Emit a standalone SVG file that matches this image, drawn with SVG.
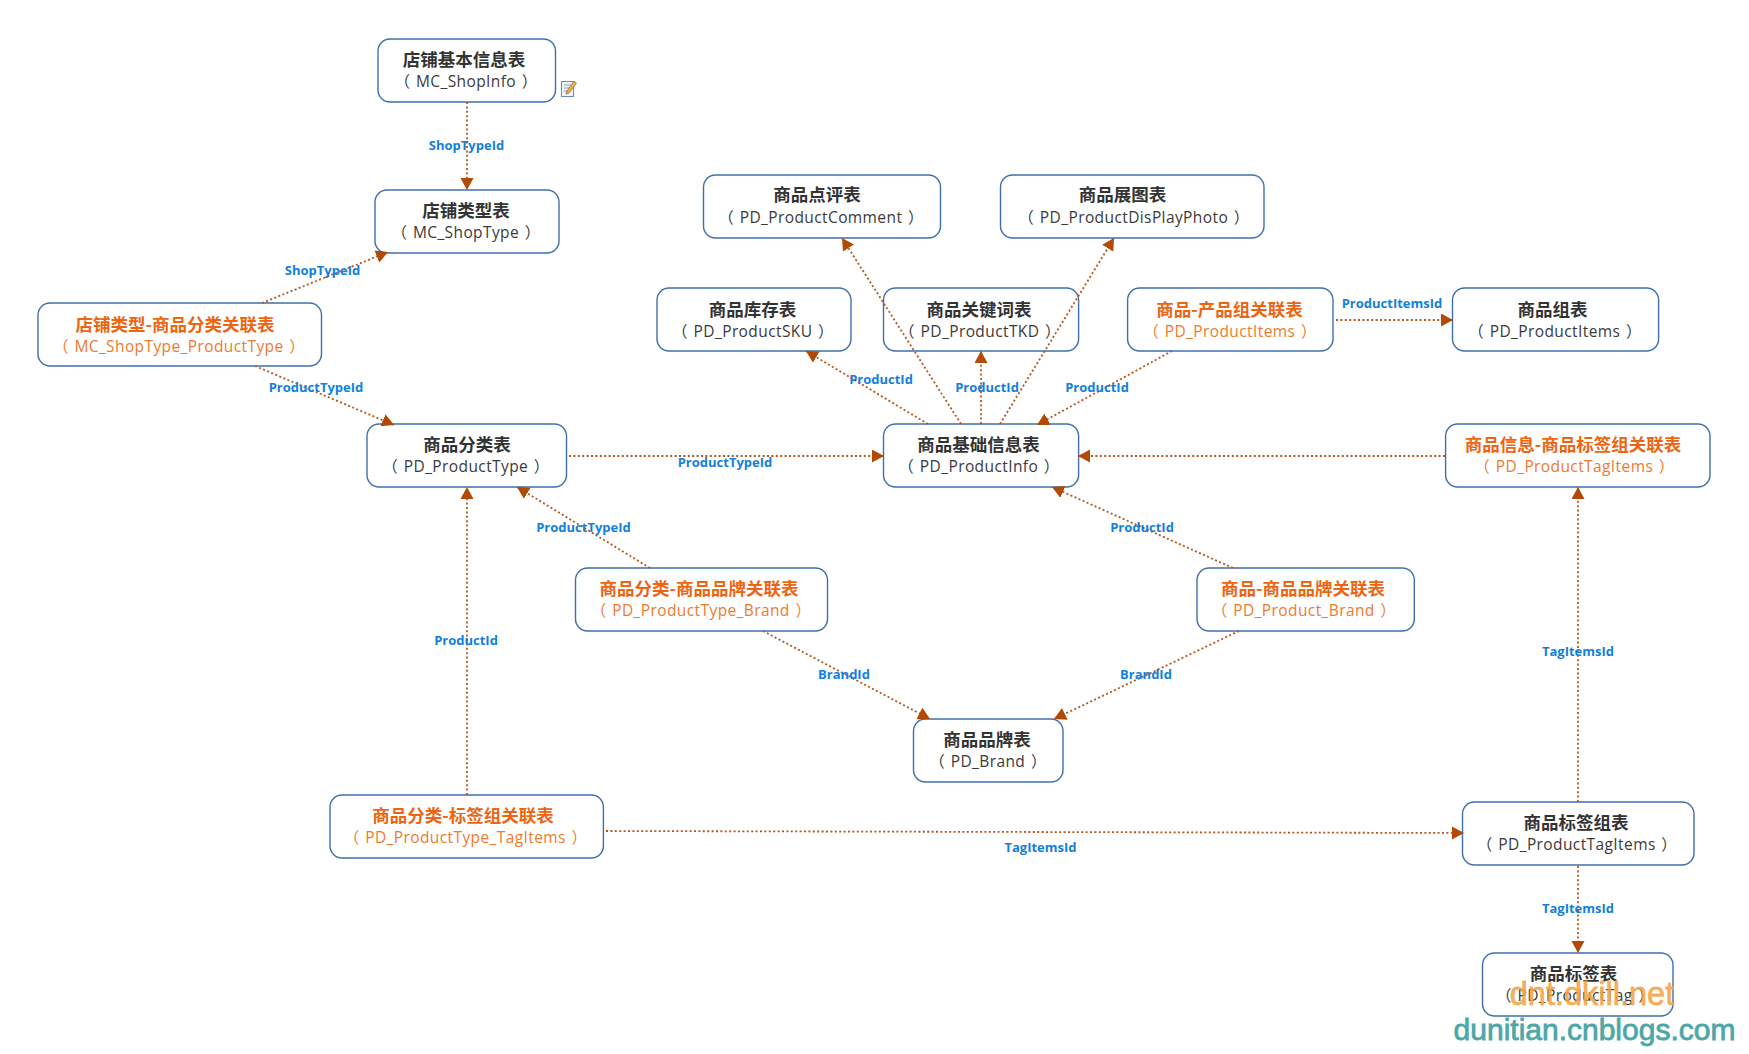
<svg xmlns="http://www.w3.org/2000/svg" width="1749" height="1054" viewBox="0 0 1749 1054">
<style>
.b{fill:#fff;stroke:#3f6fae;stroke-width:1.4}
.t{font:bold 17.500px "Noto Sans CJK SC","Noto Sans",sans-serif;fill:#333;text-anchor:middle}
.s{font:15.500px "Open Sans","Noto Sans CJK SC",sans-serif;fill:#3a3a3a;text-anchor:middle;letter-spacing:.4px;word-spacing:1.200px}
.o .t{fill:#ee6411}
.o .s{fill:#ee7a2e}
.c{fill:none;stroke:#b5561a;stroke-width:1.800;stroke-dasharray:2 2.400;marker-end:url(#a)}
.l{font:bold 13px "Open Sans","Noto Sans",sans-serif;fill:#127fdd;text-anchor:middle}
</style>
<defs><marker id="a" markerUnits="userSpaceOnUse" markerWidth="14" markerHeight="14" refX="12" refY="6.500" orient="auto"><path d="M0 0L12 6.500L0 13Z" fill="#b24a05"/></marker></defs>
<rect width="1749" height="1054" fill="#fff"/>
<g id="n1"><rect class="b" x="378" y="39" width="177.500" height="63" rx="12"/><text class="t" x="464" y="66">店铺基本信息表</text><text class="s" x="466" y="87">（ MC_ShopInfo ）</text></g>
<g id="n2"><rect class="b" x="375" y="190" width="184" height="63" rx="12"/><text class="t" x="466" y="217">店铺类型表</text><text class="s" x="466" y="238">（ MC_ShopType ）</text></g>
<g id="n3" class="o"><rect class="b" x="38" y="303" width="283.500" height="63" rx="12"/><text class="t" x="175" y="330.500">店铺类型-商品分类关联表</text><text class="s" x="179" y="351.500">（ MC_ShopType_ProductType ）</text></g>
<g id="n4"><rect class="b" x="367" y="424" width="199.500" height="63" rx="12"/><text class="t" x="467" y="451">商品分类表</text><text class="s" x="466" y="472">（ PD_ProductType ）</text></g>
<g id="n5"><rect class="b" x="703.500" y="175" width="237" height="63" rx="12"/><text class="t" x="817" y="201">商品点评表</text><text class="s" x="821" y="223">（ PD_ProductComment ）</text></g>
<g id="n6"><rect class="b" x="1000.500" y="175" width="263.500" height="63" rx="12"/><text class="t" x="1122.500" y="201">商品展图表</text><text class="s" x="1134" y="223">（ PD_ProductDisPlayPhoto ）</text></g>
<g id="n7"><rect class="b" x="657" y="288" width="194" height="63" rx="12"/><text class="t" x="752.500" y="315.500">商品库存表</text><text class="s" x="753" y="336.500">（ PD_ProductSKU ）</text></g>
<g id="n8"><rect class="b" x="883.500" y="288" width="195.100" height="63" rx="12"/><text class="t" x="979" y="315.500">商品关键词表</text><text class="s" x="980" y="336.500">（ PD_ProductTKD ）</text></g>
<g id="n9" class="o"><rect class="b" x="1127.600" y="288" width="205.400" height="63" rx="12"/><text class="t" x="1229.500" y="315.500">商品-产品组关联表</text><text class="s" x="1230" y="336.500">（ PD_ProductItems ）</text></g>
<g id="n10"><rect class="b" x="1452.500" y="288" width="206.100" height="63" rx="12"/><text class="t" x="1552.500" y="315.500">商品组表</text><text class="s" x="1555" y="336.500">（ PD_ProductItems ）</text></g>
<g id="n11"><rect class="b" x="883.500" y="424" width="195.100" height="63" rx="12"/><text class="t" x="978.500" y="451">商品基础信息表</text><text class="s" x="979" y="472">（ PD_ProductInfo ）</text></g>
<g id="n12" class="o"><rect class="b" x="1445.600" y="424" width="264.400" height="63" rx="12"/><text class="t" x="1573" y="451">商品信息-商品标签组关联表</text><text class="s" x="1574.500" y="472">（ PD_ProductTagItems ）</text></g>
<g id="n13" class="o"><rect class="b" x="575.500" y="568" width="252" height="63" rx="12"/><text class="t" x="699" y="594.500">商品分类-商品品牌关联表</text><text class="s" x="701" y="616">（ PD_ProductType_Brand ）</text></g>
<g id="n14" class="o"><rect class="b" x="1197" y="568" width="217.300" height="63" rx="12"/><text class="t" x="1303" y="594.500">商品-商品品牌关联表</text><text class="s" x="1304" y="616">（ PD_Product_Brand ）</text></g>
<g id="n15"><rect class="b" x="913.500" y="719" width="149.500" height="63" rx="12"/><text class="t" x="987" y="746">商品品牌表</text><text class="s" x="988" y="767">（ PD_Brand ）</text></g>
<g id="n16" class="o"><rect class="b" x="330" y="795" width="273.400" height="63" rx="12"/><text class="t" x="463" y="821.500">商品分类-标签组关联表</text><text class="s" x="465.500" y="843">（ PD_ProductType_TagItems ）</text></g>
<g id="n17"><rect class="b" x="1462.500" y="802" width="231.500" height="63" rx="12"/><text class="t" x="1576" y="829">商品标签组表</text><text class="s" x="1577" y="850">（ PD_ProductTagItems ）</text></g>
<g id="n18"><rect class="b" x="1482.500" y="953" width="190.500" height="63" rx="12"/><text class="t" x="1573.500" y="980">商品标签表</text><text class="s" x="1575" y="1001">（ PD_ProductTag ）</text></g>
<g id="icon"><rect x="561.500" y="81.500" width="12" height="15" fill="#eef3fa" stroke="#6b8db5"/><path d="M564 85h7M564 88h6M564 91h5" stroke="#8aa" stroke-width="1"/><path d="M567 91L574 81L576.500 83L569 93L566 94Z" fill="#e9b44c" stroke="#a5401a" stroke-width=".6"/></g>
<g id="connectors">
<path class="c" d="M467 102V190"/>
<path class="c" d="M262 303L388 252"/>
<path class="c" d="M255 366L394 425"/>
<path class="c" d="M569 456H884"/>
<path class="c" d="M928 424L806 351"/>
<path class="c" d="M961 424L842 238"/>
<path class="c" d="M981 424V351"/>
<path class="c" d="M1000 424L1114 238"/>
<path class="c" d="M1172 351L1037 425"/>
<path class="c" d="M1336 320H1453"/>
<path class="c" d="M1445 456H1078"/>
<path class="c" d="M1233 568L1052 487"/>
<path class="c" d="M650 568L517 487"/>
<path class="c" d="M763 631L930 719"/>
<path class="c" d="M1239 631L1054 719"/>
<path class="c" d="M467 795V487"/>
<path class="c" d="M606 831L1464 833"/>
<path class="c" d="M1578 802V487"/>
<path class="c" d="M1578 866V953"/>
</g>
<g id="labels">
<text class="l" x="466.500" y="150">ShopTypeId</text>
<text class="l" x="322.500" y="275">ShopTypeId</text>
<text class="l" x="316" y="392">ProductTypeId</text>
<text class="l" x="725" y="467">ProductTypeId</text>
<text class="l" x="881" y="384">ProductId</text>
<text class="l" x="987" y="392">ProductId</text>
<text class="l" x="1097" y="392">ProductId</text>
<text class="l" x="1392" y="308">ProductItemsId</text>
<text class="l" x="583.500" y="531.500">ProductTypeId</text>
<text class="l" x="1142" y="531.500">ProductId</text>
<text class="l" x="466" y="645">ProductId</text>
<text class="l" x="844" y="679">BrandId</text>
<text class="l" x="1146" y="679">BrandId</text>
<text class="l" x="1040.500" y="852">TagItemsId</text>
<text class="l" x="1578" y="656">TagItemsId</text>
<text class="l" x="1578" y="913">TagItemsId</text>
</g>
<g id="watermark">
<text x="1592" y="1005" font-family="Liberation Sans,sans-serif" font-size="32.500" fill="#f6a544" fill-opacity=".9" stroke="#f6a544" stroke-opacity=".7" stroke-width=".9" text-anchor="middle">dnt.dkill.net</text>
<text x="1594.500" y="1040" font-family="Liberation Sans,sans-serif" font-size="30" fill="#4ea7a7" stroke="#4ea7a7" stroke-width=".8" text-anchor="middle">dunitian.cnblogs.com</text>
</g>
</svg>
